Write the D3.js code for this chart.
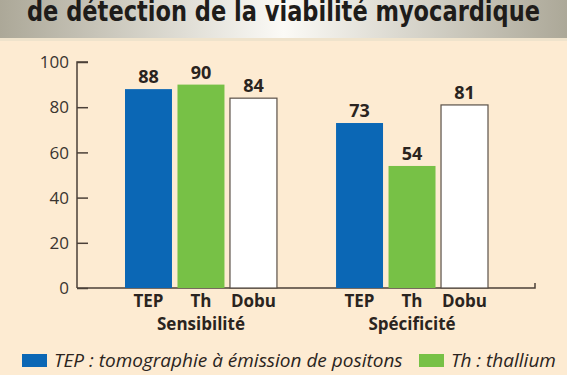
<!DOCTYPE html>
<html>
<head>
<meta charset="utf-8">
<script src="https://cdn.jsdelivr.net/npm/d3@7"></script>
<style>
  html, body { margin: 0; padding: 0; background: #fdebd2; }
  svg { display: block; }
</style>
</head>
<body>
<div id="container"></div>
<script>
const groups = ["Sensibilité", "Spécificité"]
const methods = ["TEP", "Th", "Dobu"]
const sensibilite = [88, 90, 84]
const specificite = [73, 54, 81]
const yTicks = [0, 20, 40, 60, 80, 100]
const title = "de détection de la viabilité myocardique"
const legendItems = ["TEP : tomographie à émission de positons", "Th : thallium"]

const width = 567
const height = 375
const colors = { TEP: "#0b67b5", Th: "#77c146", Dobu: "#ffffff" }

const svg = d3.select("#container").append("svg")
    .attr("width", width)
    .attr("height", height)

// title band with grey gradient
const defs = svg.append("defs")
const grad = defs.append("linearGradient").attr("id", "band")
grad.append("stop").attr("offset", "0%").attr("stop-color", "#aca898")
grad.append("stop").attr("offset", "50%").attr("stop-color", "#fbfaf6")
grad.append("stop").attr("offset", "100%").attr("stop-color", "#aca898")

svg.append("rect").attr("x", 0).attr("y", 0).attr("width", width).attr("height", 38)
    .attr("fill", "url(#band)")
svg.append("rect").attr("x", 0).attr("y", 38).attr("width", width).attr("height", 3)
    .attr("fill", "#efe3cc")

svg.append("text")
    .attr("x", 27).attr("y", 21)
    .attr("textLength", 513)
    .attr("lengthAdjust", "spacingAndGlyphs")
    .style("font-family", "'DejaVu Sans Condensed', 'DejaVu Sans'")
    .style("font-weight", "bold")
    .style("font-size", "29px")
    .attr("fill", "#1e1c1a")
    .text(title)

const y = d3.scaleLinear().domain([0, 100]).range([288, 62])
const x0 = d3.scaleBand().domain(groups).range([125, 488]).paddingInner(0.28)
const x1 = d3.scaleBand().domain(methods).range([0, x0.bandwidth()]).paddingInner(0.105)

const data = [
    { group: groups[0], values: sensibilite },
    { group: groups[1], values: specificite }
]

const axisColor = "#4b4038"

// y axis
const yAxis = svg.append("g").attr("transform", "translate(77,0)")
    .call(d3.axisRight(y).tickValues(yTicks).tickSize(11).tickFormat(""))
yAxis.select(".domain").attr("stroke", axisColor).attr("stroke-width", 1.5)
    .attr("d", `M11,${y(100)}H0V${y(0)}`)
yAxis.selectAll(".tick line").attr("stroke", axisColor).attr("stroke-width", 1.5)

svg.append("g").selectAll("text")
    .data(yTicks)
    .join("text")
    .attr("x", 69)
    .attr("y", d => y(d))
    .attr("dy", "0.36em")
    .attr("text-anchor", "end")
    .style("font-family", "'Open Sans'")
    .style("font-size", "17px")
    .attr("fill", "#3a3430")
    .text(d => d)

// x baseline
svg.append("path")
    .attr("d", `M77,${y(0)}H535V${y(0) - 5}`)
    .attr("fill", "none")
    .attr("stroke", axisColor)
    .attr("stroke-width", 1.5)

const g = svg.selectAll(".grp")
    .data(data)
    .join("g")
    .attr("class", "grp")
    .attr("transform", d => `translate(${x0(d.group)},0)`)

g.selectAll("rect")
    .data(d => d.values.map((v, i) => ({ m: methods[i], v })))
    .join("rect")
    .attr("x", d => x1(d.m))
    .attr("y", d => y(d.v))
    .attr("width", x1.bandwidth())
    .attr("height", d => y(0) - y(d.v))
    .attr("fill", d => colors[d.m])
    .attr("stroke", d => d.m === "Dobu" ? "#5a5048" : "none")
    .attr("stroke-width", 1.2)

g.selectAll(".val")
    .data(d => d.values.map((v, i) => ({ m: methods[i], v })))
    .join("text")
    .attr("class", "val")
    .attr("x", d => x1(d.m) + x1.bandwidth() / 2)
    .attr("y", d => y(d.v) - 6)
    .attr("text-anchor", "middle")
    .style("font-family", "'Open Sans'")
    .style("font-weight", "bold")
    .style("font-size", "18px")
    .attr("fill", "#2a2420")
    .text(d => d.v)

g.selectAll(".cat")
    .data(methods)
    .join("text")
    .attr("class", "cat")
    .attr("x", d => x1(d) + x1.bandwidth() / 2)
    .attr("y", 307)
    .attr("text-anchor", "middle")
    .style("font-family", "'Open Sans'")
    .style("font-weight", "bold")
    .style("font-size", "17px")
    .attr("fill", "#2a2420")
    .text(d => d)

g.append("text")
    .attr("x", x0.bandwidth() / 2)
    .attr("y", 330)
    .attr("text-anchor", "middle")
    .style("font-family", "'Open Sans'")
    .style("font-weight", "bold")
    .style("font-size", "17px")
    .attr("fill", "#2a2420")
    .text(d => d.group)

// legend
const legend = svg.append("g")
const legendColors = [colors.TEP, colors.Th]
const legendX = [22, 419]
legend.selectAll("rect")
    .data(legendItems)
    .join("rect")
    .attr("x", (d, i) => legendX[i])
    .attr("y", 354)
    .attr("width", 25)
    .attr("height", 13)
    .attr("fill", (d, i) => legendColors[i])

legend.selectAll("text")
    .data(legendItems)
    .join("text")
    .attr("x", (d, i) => legendX[i] + 32)
    .attr("y", 367)
    .style("font-family", "'Open Sans'")
    .style("font-style", "italic")
    .style("font-size", "19px")
    .attr("fill", "#2a2420")
    .text(d => d)
</script>
</body>
</html>
